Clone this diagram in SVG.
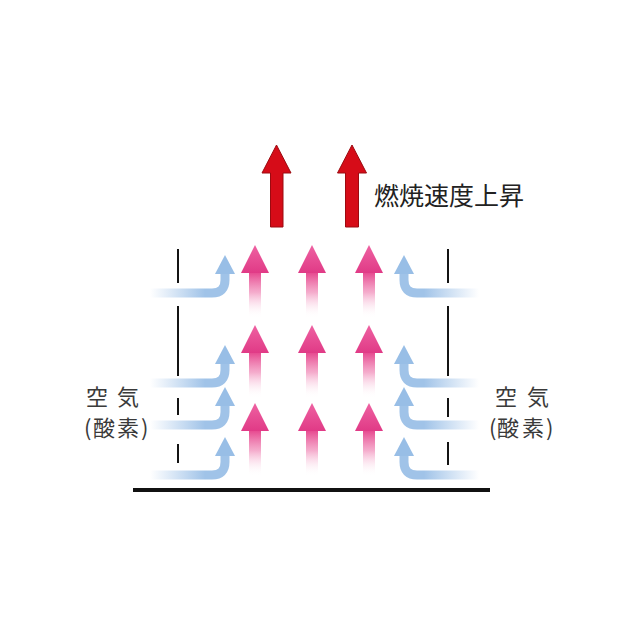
<svg xmlns="http://www.w3.org/2000/svg" xmlns:xlink="http://www.w3.org/1999/xlink" width="640" height="640" viewBox="0 0 640 640">
<style>
.wall{stroke:#141414;stroke-width:2;fill:none}
.lbl{font-family:"Noto Sans CJK JP","Noto Sans",sans-serif;font-size:22px;fill:#3a3a3a}
.ttl{font-family:"Noto Sans CJK JP","Noto Sans",sans-serif;font-size:25px;fill:#222}
.red{fill:#d60c18;stroke:#9c0a10;stroke-width:1}
</style>
<defs>
<linearGradient id="pshaft" x1="0" y1="0" x2="0" y2="1">
<stop offset="0" stop-color="#e6458d" stop-opacity="1"/>
<stop offset="0.45" stop-color="#ee77ac" stop-opacity="0.6"/>
<stop offset="1" stop-color="#ffffff" stop-opacity="0"/>
</linearGradient>
<linearGradient id="phead" x1="0" y1="0" x2="0" y2="1">
<stop offset="0" stop-color="#ee62a2"/>
<stop offset="1" stop-color="#e03a86"/>
</linearGradient>
<linearGradient id="bband" gradientUnits="userSpaceOnUse" x1="-75" y1="0" x2="-20" y2="0">
<stop offset="0" stop-color="#a6c6ea" stop-opacity="0"/>
<stop offset="1" stop-color="#a0c3e8" stop-opacity="1"/>
</linearGradient>
<g id="pa">
<rect x="-6" y="27" width="12" height="46" fill="url(#pshaft)"/>
<polygon points="0,0 -14,28 14,28" fill="url(#phead)"/>
</g>
<g id="ba">
<path d="M-78,38 H-13 Q0,38 0,25 V17" fill="none" stroke="url(#bband)" stroke-width="9"/>
<polygon points="0,0 -10,19 10,19" fill="#98bee6"/>
</g>
</defs>

<g id="red-arrows">
<path class="red" d="M270.5,227 V173 H262 L276.5,145 L291,173 H283 V227 Z"/>
<path class="red" d="M345.5,227 V173 H337.5 L352,145 L366.5,173 H358.5 V227 Z"/>
</g>
<g id="title">
<text class="ttl" x="374" y="205">燃焼速度上昇</text>
</g>

<g id="pink-arrows">
<use xlink:href="#pa" transform="translate(255,245)"/>
<use xlink:href="#pa" transform="translate(312,245)"/>
<use xlink:href="#pa" transform="translate(369,245)"/>
<use xlink:href="#pa" transform="translate(255,325)"/>
<use xlink:href="#pa" transform="translate(312,325)"/>
<use xlink:href="#pa" transform="translate(369,325)"/>
<use xlink:href="#pa" transform="translate(255,403)"/>
<use xlink:href="#pa" transform="translate(312,403)"/>
<use xlink:href="#pa" transform="translate(369,403)"/>
</g>

<g id="left-wall">
<path class="wall" d="M178,249 V283 M178,306 V376 M178,398 V415 M178,444 V463"/>
</g>
<g id="right-wall">
<path class="wall" d="M448,249 V283 M448,306 V376 M448,398 V417 M448,442 V465"/>
</g>

<g id="blue-left">
<use xlink:href="#ba" transform="translate(225,255)"/>
<use xlink:href="#ba" transform="translate(225,345)"/>
<use xlink:href="#ba" transform="translate(225,387)"/>
<use xlink:href="#ba" transform="translate(225,437)"/>
</g>
<g id="blue-right">
<use xlink:href="#ba" transform="translate(404,255) scale(-1,1)"/>
<use xlink:href="#ba" transform="translate(404,345) scale(-1,1)"/>
<use xlink:href="#ba" transform="translate(404,387) scale(-1,1)"/>
<use xlink:href="#ba" transform="translate(404,437) scale(-1,1)"/>
</g>

<g id="base">
<rect x="133" y="488" width="357" height="4" fill="#111"/>
</g>

<g id="label-left">
<text class="lbl" x="86 107 117" y="405">空 気</text>
<text class="lbl" x="84 93 117 141" y="436">(酸素)</text>
</g>
<g id="label-right">
<text class="lbl" x="495 516 527" y="405">空 気</text>
<text class="lbl" x="489 497 522 546" y="436">(酸素)</text>
</g>
</svg>
